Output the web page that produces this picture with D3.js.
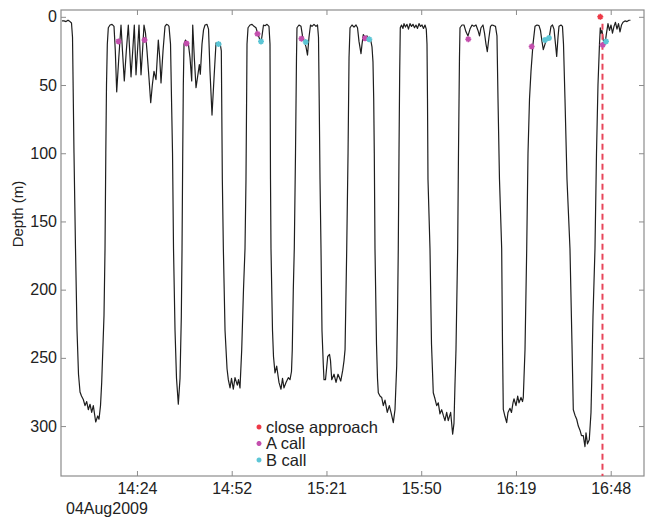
<!DOCTYPE html>
<html><head><meta charset="utf-8">
<script src="https://cdn.jsdelivr.net/npm/d3@7"></script>
<style>
body{margin:0;background:#fff;}
svg{display:block;font-family:"Liberation Sans",Arial,Helvetica,sans-serif;}
</style>
</head><body>
<svg id="c" width="646" height="518"></svg>
<script>
// ---- data (time = minutes after 14:00 on 04 Aug 2009, depth in m) ----
const diveMinutes = [
 1.22,1.82,2.43,3.04,3.65,4.10,
 4.41,4.86,5.32,5.78,6.23,6.69,7.14,7.69,8.21,8.72,9.21,9.73,10.24,10.73,11.46,12.07,12.46,12.92,13.28,13.98,14.29,14.53,14.74,14.99,15.29,
 15.81,16.42,17.02,17.42,17.84,18.48,19.15,19.60,20.15,20.76,21.37,21.79,22.19,22.71,23.19,23.47,23.71,24.16,24.62,24.93,25.23,25.69,26.14,26.60,27.05,27.66,28.18,28.67,29.18,29.79,30.49,30.92,31.31,31.92,32.52,32.98,33.43,33.74,
 34.20,34.50,34.81,35.11,35.57,36.02,36.57,37.09,37.48,37.70,37.91,38.09,38.30,
 38.75,39.21,39.67,40.13,40.64,40.95,41.43,41.95,42.96,43.26,43.77,44.23,44.68,45.29,45.75,46.20,46.81,47.42,48.03,48.73,49.25,49.64,
 49.95,50.26,50.77,51.38,51.77,52.29,52.74,53.29,53.80,54.50,54.86,55.32,55.84,56.38,56.84,57.14,57.36,57.45,57.76,
 58.36,58.97,59.57,60.18,60.79,61.40,61.70,62.01,62.46,62.92,63.53,64.13,
 64.44,64.59,64.74,65.20,65.50,65.96,66.47,67.17,67.78,68.24,68.69,69.30,70.00,70.52,70.97,71.21,71.52,71.82,72.19,72.49,72.64,
 73.25,73.86,74.32,74.86,75.38,75.84,76.29,76.75,77.20,77.81,78.42,78.88,
 79.18,79.39,79.64,79.94,80.24,80.64,80.85,81.31,81.98,82.53,82.83,83.20,83.90,84.51,85.12,85.94,86.55,86.94,87.25,87.76,88.16,88.46,88.76,
 89.37,89.97,90.58,91.04,91.49,92.10,92.41,92.80,93.32,93.92,94.38,95.05,95.44,95.74,
 95.96,96.14,96.35,96.81,97.11,97.36,97.87,98.39,98.88,99.39,100.09,100.70,101.22,101.92,102.43,102.95,103.19,103.43,103.65,103.86,104.04,
 104.41,104.86,105.17,105.62,106.08,106.53,106.99,107.45,107.90,108.36,108.81,109.27,109.73,110.18,110.64,111.09,111.55,111.94,
 112.16,112.31,112.46,113.07,113.53,114.07,114.59,115.10,115.59,116.10,116.62,117.10,117.62,118.14,118.62,119.35,119.96,120.36,120.66,120.97,121.48,121.73,122.03,122.19,
 122.80,123.40,124.01,124.62,125.23,125.84,126.44,127.05,127.66,128.12,128.57,129.18,129.64,130.09,130.49,131.00,131.46,131.91,132.52,132.98,
 133.43,133.74,134.19,134.86,135.11,135.35,135.87,136.38,136.78,137.39,137.84,138.30,138.60,139.21,139.73,140.12,140.73,141.19,141.43,141.64,141.95,142.47,142.86,143.32,143.77,144.38,144.99,
 145.60,146.20,146.66,147.11,147.51,148.03,148.48,148.94,149.39,149.85,150.30,150.76,151.22,151.58,151.98,152.28,152.89,153.34,
 153.65,154.10,154.71,155.62,156.23,156.63,157.14,157.66,158.15,158.66,159.12,159.67,160.18,160.49,160.94,161.49,162.01,162.22,162.61,163.22,163.68,164.13,164.59,164.83,
 165.05,165.35,165.81,166.26,166.72,167.17,167.63,168.09,168.54,169.00,169.45,169.91,170.37,170.82,171.28,171.74,172.34,172.95,173.56,174.01
];
const diveDepth = [
 3,3,3.5,2.5,3.5,4.5,
 15,100,170,230,262,275,278,280.5,285,282,288,284,290,285,297,292.6,295,285,268,219,170,100,50,20,8,
 6,5.5,7,25,55,30,6,25,47,25,6,25,44,25,6,25,42.5,25,6,25,42.5,25,6,12,25,45,63,50,40,46,17,30,48.5,25,7,5.5,6,7,
 20,60,100,170,230,265,284,265,220,170,100,50,20,
 17,19,20.6,30,47,6,30,52,35,42,20,9.6,6,5.5,9,40,72,45,19,20,19,25,
 119,170,230,258,266,272,265,273,264.5,270,266,272,244,200,170,119,50,20,8,
 6,5.5,7,8,13,17,19,14,6,6.5,5.5,7,
 20,119,170,230,249,261,256,268,273,265,272,268,264.5,266,260,244,200,170,100,30,8,
 6,7,14,18,22,28,15,6,7,5.5,7,6,
 15,60,119,170,230,255,266,266,249,247.5,252,266,262,268,262,267,259,252,244,170,100,30,8,
 6,7.5,6,8,18,27,20,13,15,14,16,17,22,33,
 60,100,170,240,265,275.6,278,279,285,281,290,285,290,297.5,288,256,220,170,100,40,8,
 6,8.5,5,7.5,5.5,9,5,7,5.5,8,6,8.5,5,7,6,8.5,6,9,
 20,60,119,170,240,275.6,280,285,283,291,288,292,296,290,296,290,306,298,270,244,170,100,30,8,
 6,6,11,14,9,6,7,6,10,14,8,6,12,20,25.5,15,7,6,6.5,7,
 14,60,119,170,240,287.7,293,297.5,290,287,290,283,280,285,278,283,279,282,279,265,244,170,100,60,40,20,7,
 6,6.5,10,18,24,20,16,17,14,7,6,9,20,29,15,7,6,7,
 20,60,119,170,240,288,292,295,300,303,307,307,315,305,313,310,290,268,220,170,100,50,20,8,
 12,10,18,20,12,5,10,6,12,7,4,9,5,11,6,4,3,3.5,2.5,2.5
];
const aCallMinutes = [18.39,26.31,39.06,60.64,74.01,93.32,124.71,143.98,165.56];
const aCallDepth   = [18,17,19.5,12.5,16,15.7,16.4,21.8,20.6];
const bCallMinutes = [48.79,61.70,75.30,94.62,148.03,149.24,166.57];
const bCallDepth   = [20,18,18.5,16.5,17,15.5,18];
const closeMinutes = [164.83];
const closeDepth   = [0];
const closeLineMinutes = 165.50;
const xTickMinutes = [24,52.8,81.6,110.4,139.2,168];
const xTickLabels  = ["14:24","14:52","15:21","15:50","16:19","16:48"];
const yTicks = [0,50,100,150,200,250,300];
const dateLabel = "04Aug2009";
const yLabel = "Depth (m)";
const legendLabels = ["close approach","A call","B call"];

// ---- drawing ----
const base = new Date(2009,7,4,14,0,0).getTime();
const toDate = m => new Date(base + m*60000);
const L=61,R=644,T=10,B=476;
const x = d3.scaleTime().domain([toDate(0.91),toDate(178.12)]).range([L,R]);
const y = d3.scaleLinear().domain([-5,336.6]).range([T,B]);
const svg = d3.select("#c");
const axisCol="#8c8c8c", textCol="#222";

const gx = svg.append("g").attr("transform",`translate(0,${B})`)
  .call(d3.axisBottom(x).tickValues(xTickMinutes.map(toDate)).tickFormat((d,i)=>xTickLabels[i]).tickSizeInner(-5).tickSizeOuter(0).tickPadding(7));
const gxt = svg.append("g").attr("transform",`translate(0,${T})`)
  .call(d3.axisTop(x).tickValues(xTickMinutes.map(toDate)).tickFormat("").tickSizeInner(-5).tickSizeOuter(0));
const gy = svg.append("g").attr("transform",`translate(${L},0)`)
  .call(d3.axisLeft(y).tickValues(yTicks).tickSizeInner(-5).tickSizeOuter(0).tickPadding(4));
const gyr = svg.append("g").attr("transform",`translate(${R},0)`)
  .call(d3.axisRight(y).tickValues(yTicks).tickFormat("").tickSizeInner(-5).tickSizeOuter(0));
[gx,gxt,gy,gyr].forEach(g=>{
  g.select(".domain").remove();
  g.selectAll(".tick line").attr("stroke",axisCol);
  g.selectAll("text").attr("fill",textCol).style("font-size","16px").style("font-family","'Liberation Sans',Arial,sans-serif");
});
svg.append("rect").attr("x",L).attr("y",T).attr("width",R-L).attr("height",B-T)
  .attr("fill","none").attr("stroke",axisCol).attr("stroke-width",1.2);

// dive trace
const pts = diveMinutes.map((m,i)=>[toDate(m),diveDepth[i]]);
svg.append("path").datum(pts)
  .attr("d",d3.line().x(d=>x(d[0])).y(d=>y(d[1])))
  .attr("fill","none").attr("stroke","#1e1e1e").attr("stroke-width",1.2).attr("stroke-linejoin","round");

// close approach dashed line
svg.append("line")
  .attr("x1",x(toDate(closeLineMinutes))).attr("x2",x(toDate(closeLineMinutes)))
  .attr("y1",y(5)).attr("y2",B)
  .attr("stroke","#e8455a").attr("stroke-width",2).attr("stroke-dasharray","6,4");

function star(g,cx,cy,col,r){
  const p=`M${cx-r},${cy}L${cx+r},${cy}M${cx},${cy-r}L${cx},${cy+r}`+
          `M${cx-r*0.7},${cy-r*0.7}L${cx+r*0.7},${cy+r*0.7}M${cx-r*0.7},${cy+r*0.7}L${cx+r*0.7},${cy-r*0.7}`;
  g.append("path").attr("d",p).attr("stroke",col).attr("stroke-width",1.6).attr("fill","none");
  g.append("circle").attr("cx",cx).attr("cy",cy).attr("r",r*0.6).attr("fill",col).attr("opacity",0.8);
}
const colA="#c44fae", colB="#5cc6d6", colC="#ee3846";
const mg = svg.append("g");
aCallMinutes.forEach((m,i)=>star(mg,x(toDate(m)),y(aCallDepth[i]),colA,3));
bCallMinutes.forEach((m,i)=>star(mg,x(toDate(m)),y(bCallDepth[i]),colB,3));
closeMinutes.forEach((m,i)=>star(mg,x(toDate(m)),y(closeDepth[i]),colC,3));

// legend
const lg = svg.append("g");
const lcols=[colC,colA,colB];
legendLabels.forEach((t,i)=>{
  const ly=427+i*16.5;
  star(lg,259,ly,lcols[i],2.5);
  lg.append("text").attr("x",266).attr("y",ly).attr("dy","0.35em").text(t)
    .attr("fill",textCol).style("font-size","16.5px");
});

// labels
svg.append("text").attr("x",66).attr("y",514).text(dateLabel).attr("fill",textCol).style("font-size","16px");
svg.append("text").attr("transform","translate(18,214) rotate(-90)").attr("text-anchor","middle")
  .attr("dy","0.35em").text(yLabel).attr("fill",textCol).style("font-size","15px");
</script>
</body></html>
